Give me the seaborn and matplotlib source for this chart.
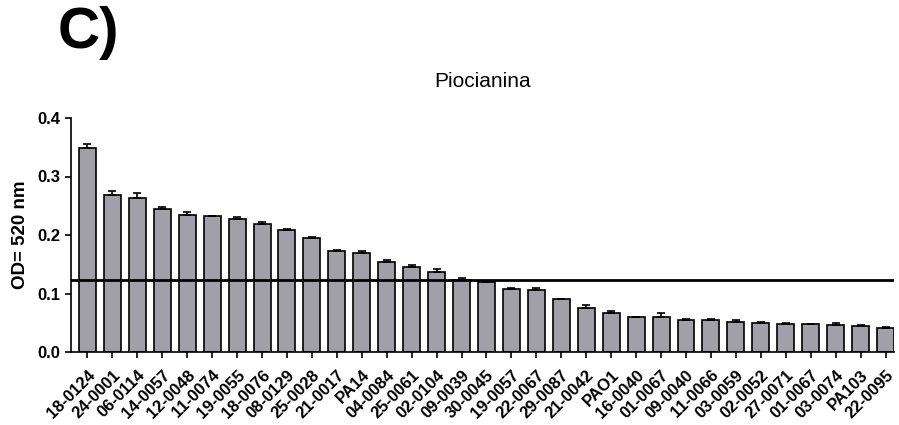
import numpy as np
import pandas as pd
import matplotlib
matplotlib.use("Agg")
import matplotlib.pyplot as plt
import seaborn as sns

strains = ["18-0124", "24-0001", "06-0114", "14-0057", "12-0048", "11-0074", "19-0055",
           "18-0076", "08-0129", "25-0028", "21-0017", "PA14", "04-0084", "25-0061",
           "02-0104", "09-0039", "30-0045", "19-0057", "22-0067", "29-0087", "21-0042",
           "PAO1", "16-0040", "01-0067", "09-0040", "11-0066", "03-0059", "02-0052",
           "27-0071", "01-0067", "03-0074", "PA103", "22-0095"]
od_values = [0.349, 0.269, 0.264, 0.245, 0.235, 0.232, 0.227, 0.218, 0.2085, 0.195,
             0.172, 0.170, 0.154, 0.145, 0.136, 0.123, 0.119, 0.108, 0.106, 0.090,
             0.0757, 0.066, 0.059, 0.059, 0.055, 0.054, 0.051, 0.049, 0.048, 0.0476,
             0.047, 0.045, 0.041]
od_errors = [0.006, 0.006, 0.007, 0.0035, 0.0045, 0.001, 0.003, 0.005, 0.001, 0.002,
             0.002, 0.002, 0.0035, 0.0045, 0.006, 0.004, 0.002, 0.002, 0.003, 0.001,
             0.004, 0.0035, 0.001, 0.007, 0.001, 0.003, 0.003, 0.002, 0.002, 0.001,
             0.002, 0.001, 0.001]
threshold = 0.123

sns.set_style("ticks")
plt.rcParams['font.family'] = ['Liberation Sans', 'DejaVu Sans']
for k in ["text.color", "axes.labelcolor", "xtick.color", "ytick.color", "axes.edgecolor"]:
    plt.rcParams[k] = "black"

df = pd.DataFrame({"idx": np.arange(len(strains)), "od": od_values, "err": od_errors})

fig = plt.figure(figsize=(8.99, 4.25), dpi=100)
ax = fig.add_axes([71/899, 1 - 352/425, (894 - 71)/899, (352 - 118)/425])

sns.barplot(data=df, x="idx", y="od", order=list(df["idx"]), color="#a1a0a8",
            edgecolor="black", linewidth=1.2, width=0.68, errorbar=None,
            saturation=1, ax=ax)
ax.errorbar(df["idx"], df["od"], yerr=[np.zeros(len(df)), df["err"]], fmt="none",
            ecolor="black", elinewidth=1.2, capsize=3, capthick=1.2, zorder=3)
ax.axhline(threshold, color="black", linewidth=2, zorder=4)

ax.set_xlim(-0.66, len(strains) - 1 + 0.34)
ax.set_ylim(0, 0.4)
ax.set_yticks([0.0, 0.1, 0.2, 0.3, 0.4])
ax.set_yticklabels(["0.0", "0.1", "0.2", "0.3", "0.4"], fontsize=12, fontweight="bold")
ax.set_xticks(df["idx"])
ax.set_xticklabels(strains, rotation=45, ha="right", rotation_mode="anchor",
                   fontsize=12, fontweight="bold")
ax.set_xlabel("")
ax.set_ylabel("OD= 520 nm", fontsize=13.5, fontweight="bold", labelpad=6)
ax.tick_params(axis="both", direction="out", length=4, width=1.2, color="black")
ax.tick_params(axis="x", pad=7)
for s in ["left", "bottom"]:
    ax.spines[s].set_linewidth(1.2)
sns.despine(ax=ax)

ax.set_title("Piocianina", fontsize=15, pad=22)
fig.text(58/899, 1 - 33/425, "C)", fontsize=42, fontweight="bold", va="center", ha="left")

fig.savefig("out.png", dpi=100)
